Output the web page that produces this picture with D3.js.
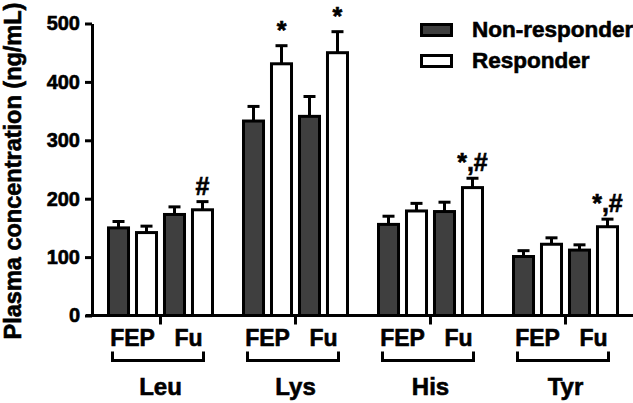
<!DOCTYPE html>
<html><head><meta charset="utf-8">
<script src="https://cdn.jsdelivr.net/npm/d3@7"></script>
<style>
html,body{margin:0;padding:0;background:#fff;}
text{font-family:"Liberation Sans",Arial,Helvetica,sans-serif;font-weight:bold;fill:#000;stroke:#000;stroke-width:0.6px;}
</style></head>
<body><svg id="c" width="633" height="403"></svg>
<script>
const groups = ["Leu","Lys","His","Tyr"];
const subLabels = ["FEP","Fu"];
const seriesNames = ["Non-responder","Responder"];
// order within group: FEP-NR, FEP-R, Fu-NR, Fu-R
const barKeys = ["FEP-NR","FEP-R","Fu-NR","Fu-R"];
const means = {
  Leu:[150,142,173,181],
  Lys:[333,431,341,450],
  His:[156,179,178,219],
  Tyr:[101,122,112,152]
};
const sems = {
  Leu:[11,11,13,14],
  Lys:[25,31,34,36],
  His:[14,13,16,16],
  Tyr:[10,11,9,13]
};
const marks = {
  Leu:["","","","#"],
  Lys:["","*","","*"],
  His:["","","","*,#"],
  Tyr:["","","","*,#"]
};
const yTicks = [0,100,200,300,400,500];

const svg = d3.select("#c");
const y = d3.scaleLinear().domain([0,500]).range([315.5,23.5]);
const x = d3.scaleBand().domain(groups).range([93,633]);
const xi = d3.scaleBand().domain(barKeys).range([-56,56]).paddingInner(0.285).paddingOuter(0.143);
const color = k => k.endsWith("NR") ? "#3f3f3f" : "#ffffff";
const gc = g => x(g) + x.bandwidth()/2;

// y axis
const ya = svg.append("g").attr("transform","translate(92,0)")
  .call(d3.axisLeft(y).tickValues(yTicks).tickSize(7).tickPadding(5).tickSizeOuter(0));
ya.select(".domain").attr("stroke","#000").attr("stroke-width",3);
ya.selectAll(".tick line").attr("stroke","#000").attr("stroke-width",3);
ya.selectAll(".tick text").style("font-size","20px").style("font-family","Liberation Sans, Arial, sans-serif").style("font-weight","bold").attr("fill","#000");

// bars
const data = [];
groups.forEach(g => barKeys.forEach((k,i) => data.push({g,k,v:means[g][i],e:sems[g][i],m:marks[g][i]})));
const bg = svg.append("g");
// error bars
bg.selectAll("line.err").data(data).join("line").attr("class","err")
  .attr("x1",d=>gc(d.g)+xi(d.k)+xi.bandwidth()/2).attr("x2",d=>gc(d.g)+xi(d.k)+xi.bandwidth()/2)
  .attr("y1",d=>y(d.v)).attr("y2",d=>y(d.v+d.e)).attr("stroke","#000").attr("stroke-width",3);
bg.selectAll("line.cap").data(data).join("line").attr("class","cap")
  .attr("x1",d=>gc(d.g)+xi(d.k)+xi.bandwidth()/2-6).attr("x2",d=>gc(d.g)+xi(d.k)+xi.bandwidth()/2+6)
  .attr("y1",d=>y(d.v+d.e)).attr("y2",d=>y(d.v+d.e)).attr("stroke","#000").attr("stroke-width",3);
bg.selectAll("rect").data(data).join("rect")
  .attr("x",d=>gc(d.g)+xi(d.k)).attr("width",xi.bandwidth())
  .attr("y",d=>y(d.v)).attr("height",d=>y(0)-y(d.v))
  .attr("fill",d=>color(d.k)).attr("stroke","#000").attr("stroke-width",3);
bg.selectAll("text.mark").data(data.filter(d=>d.m)).join("text").attr("class","mark")
  .attr("x",d=>gc(d.g)+xi(d.k)+xi.bandwidth()/2).attr("y",d=>y(d.v+d.e)-7)
  .attr("text-anchor","middle").style("font-size","25px").text(d=>d.m);

// x axis line
svg.append("line").attr("x1",86).attr("x2",633).attr("y1",y(0)).attr("y2",y(0)).attr("stroke","#000").attr("stroke-width",3);
// x ticks at group centres
svg.selectAll("line.xt").data(groups).join("line").attr("class","xt")
  .attr("x1",gc).attr("x2",gc).attr("y1",y(0)).attr("y2",y(0)+9).attr("stroke","#000").attr("stroke-width",3);
// sub labels
groups.forEach(g => {
  subLabels.forEach((s,i) => {
    svg.append("text").attr("x",gc(g)+(i===0?-28:28)).attr("y",346).attr("text-anchor","middle")
      .style("font-size","23px").text(s);
  });
  const x0 = gc(g)-48, x1 = gc(g)+43;
  svg.append("path").attr("d",`M${x0},351.5V360.5H${x1}V351.5`).attr("fill","none").attr("stroke","#000").attr("stroke-width",3);
  svg.append("text").attr("x",gc(g)).attr("y",395).attr("text-anchor","middle").style("font-size","24px").text(g);
});

// y title
svg.append("text").attr("transform","translate(21,171) rotate(-90)").attr("text-anchor","middle")
  .style("font-size","23.5px").text("Plasma concentration (ng/mL)");

// legend
const lg = svg.append("g");
seriesNames.forEach((s,i) => {
  lg.append("rect").attr("x",421.5).attr("y",24.5+i*31).attr("width",30).attr("height",11)
    .attr("fill",i===0?"#3f3f3f":"#fff").attr("stroke","#000").attr("stroke-width",3);
  lg.append("text").attr("x",472).attr("y",36.5+i*31).style("font-size","22.5px").text(s);
});
</script></body></html>
